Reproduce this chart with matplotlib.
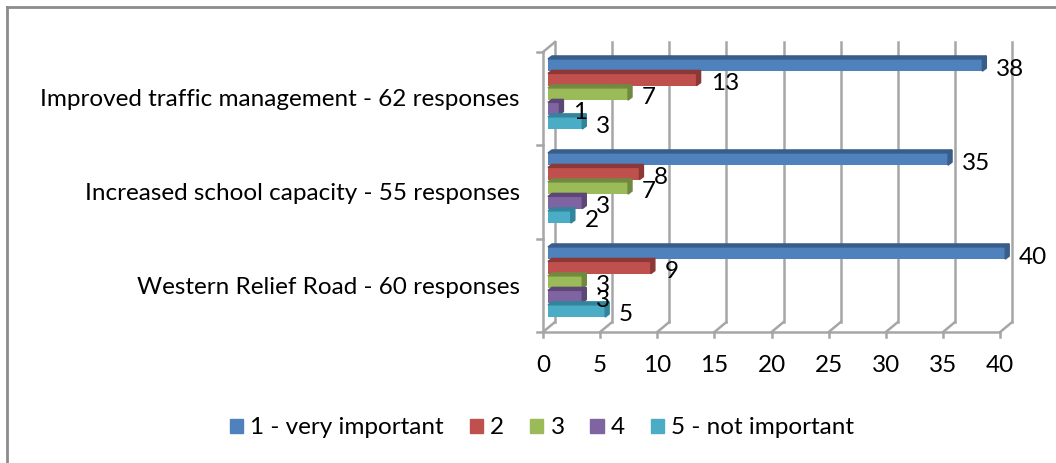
import matplotlib.pyplot as plt
import numpy as np
from matplotlib.lines import Line2D
from matplotlib.patches import Polygon, Patch

plt.rcParams['font.family'] = ['Lato', 'DejaVu Sans']

categories = ["Western Relief Road - 60 responses",
              "Increased school capacity - 55 responses",
              "Improved traffic management - 62 responses"]
series = ["1 - very important", "2", "3", "4", "5 - not important"]
values = {
    "1 - very important": [40, 35, 38],
    "2": [9, 8, 13],
    "3": [3, 7, 7],
    "4": [3, 3, 1],
    "5 - not important": [5, 2, 3],
}
colors = ["#4F81BD", "#C0504D", "#9BBB59", "#8064A2", "#4BACC6"]
dark = ["#385D8A", "#8C3836", "#71893F", "#5C4776", "#31849B"]
xticks = [0, 5, 10, 15, 20, 25, 30, 35, 40]

W, H = 1056, 463
FS = 17.5
fig = plt.figure(figsize=(W / 100, H / 100), dpi=100)

# axes in pixel layout; bar plane: px = 548 + PX*v, py = 282 - 94*u
PX, PY = 11.43, 94.0
L, R, T, B = 520, 1040, 20, 385
ax = fig.add_axes([L / W, 1 - B / H, (R - L) / W, (B - T) / H])
ax.set_xlim((L - 548) / PX, (R - 548) / PX)
ax.set_ylim((282 - B) / PY, (282 - T) / PY)
ax.axis("off")

grid_c = "#A6A6A6"
fx, bx = -5 / PX, 7 / PX              # front / back plane x shift
yf, yb = (282 - 332) / PY, (282 - 322) / PY   # floor front / back
tf, tb = (282 - 52) / PY, (282 - 42) / PY     # wall top front / back
lw = 1.8

# back wall gridlines, floor diagonals, front axis with ticks
for v in xticks:
    ax.plot([v + bx, v + bx], [yb, tb], color=grid_c, lw=lw, zorder=1)
    ax.plot([v + fx, v + bx], [yf, yb], color=grid_c, lw=lw, zorder=1)
    ax.plot([v + fx, v + fx], [yf, yf - 5 / PY], color=grid_c, lw=lw, zorder=1)
    ax.text(v + fx, (282 - 365) / PY, str(v), ha="center", va="center", fontsize=FS)
ax.plot([xticks[0] + fx, xticks[-1] + fx], [yf, yf], color=grid_c, lw=lw, zorder=1)

# left wall front edge with category ticks
ax.plot([fx, fx], [yf, tf], color=grid_c, lw=lw, zorder=1)
ax.plot([fx, bx], [tf, tb], color=grid_c, lw=lw, zorder=1)
for k in range(len(categories) + 1):
    yk = yf + k * (tf - yf) / len(categories)
    ax.plot([fx - 6 / PX, fx], [yk, yk], color=grid_c, lw=lw, zorder=1)

# bars
ypos = np.arange(len(categories))
h = 0.13
dx, dy = 4 / PX, 3 / PY
offsets = [0.308, 0.154, 0.0, -0.154, -0.308]
for s, name in enumerate(series):
    vals = values[name]
    yy = ypos + offsets[s]
    ax.barh(yy, vals, height=h, color=colors[s], zorder=3)
    for y0, v in zip(yy, vals):
        top = [(0, y0 + h / 2), (v, y0 + h / 2), (v + dx, y0 + h / 2 + dy), (dx, y0 + h / 2 + dy)]
        side = [(v, y0 - h / 2), (v + dx, y0 - h / 2 + dy), (v + dx, y0 + h / 2 + dy), (v, y0 + h / 2)]
        ax.add_patch(Polygon(top, closed=True, color=dark[s], zorder=3))
        ax.add_patch(Polygon(side, closed=True, color=dark[s], zorder=3))
        ax.text(v + dx + 10 / PX, y0 - 4 / PY, str(v), ha="left", va="center", fontsize=FS, zorder=4)

# category labels
for y0, lab in zip(ypos, categories):
    ax.text((520 - 548) / PX, y0 - 6 / PY, lab, ha="right", va="center", fontsize=FS)

handles = [Patch(color=c, label=n) for c, n in zip(colors, series)]
fig.legend(handles=handles, loc="center", bbox_to_anchor=(542 / W, 1 - 428 / H), ncol=5,
           frameon=False, fontsize=FS, handlelength=0.55, handleheight=0.55,
           handletextpad=0.3, columnspacing=1.05)

# outer frame (left and top)
fig.add_artist(Line2D([7 / W, 7 / W], [0, 1 - 7 / H], color="#8C8C8C", lw=2))
fig.add_artist(Line2D([7 / W, 1], [1 - 7 / H, 1 - 7 / H], color="#8C8C8C", lw=2))

fig.savefig("out.png", dpi=100)
